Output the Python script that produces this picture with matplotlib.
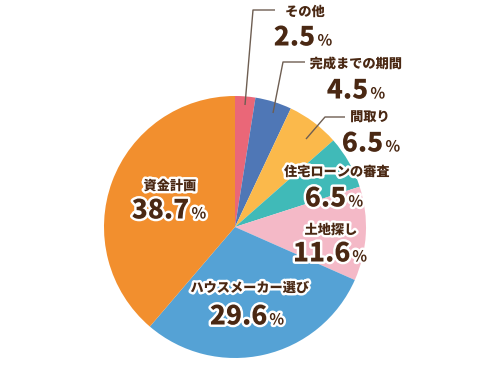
import matplotlib
matplotlib.use("Agg")
import matplotlib.pyplot as plt
import matplotlib.patheffects as pe

plt.rcParams['font.family'] = ['Noto Sans CJK JP', 'DejaVu Sans']

# ---- data ----
labels = ["その他", "完成までの期間", "間取り", "住宅ローンの審査", "土地探し", "ハウスメーカー選び", "資金計画"]
values = [2.5, 4.5, 6.5, 6.5, 11.6, 29.6, 38.7]
colors = ["#EA6778", "#4F77B6", "#FBB94B", "#40BAB8", "#F4B9C7", "#55A2D5", "#F28F2E"]

# ---- layout (pixel coords, origin top-left) ----
W, H = 500, 375
pie_center = (235, 227)
pie_radius = 131
name_pos = [(305, 12), (356, 64), (370, 117), (337, 172), (331, 230), (250, 288), (170, 186)]
num_pos = [(303, 36), (356, 89), (371, 142), (334, 197), (330, 252), (247, 315), (169, 209)]
leaders = {
    0: [(275, 10), (253, 10), (245, 105)],
    1: [(305, 62), (283, 62), (273, 113)],
    2: [(345, 117), (325, 117), (306, 139)],
}

TXT = "#4A2813"
LINE = "#6E5E52"

fig = plt.figure(figsize=(W / 100, H / 100), dpi=100)
ax = fig.add_axes([0, 0, 1, 1])
ax.set_xlim(0, W)
ax.set_ylim(0, H)
ax.axis('off')

def Y(y):
    return H - y

ax.pie(values, colors=colors, startangle=90, counterclock=False,
       center=(pie_center[0], Y(pie_center[1])), radius=pie_radius,
       wedgeprops=dict(linewidth=0))
ax.set_xlim(0, W)
ax.set_ylim(0, H)
ax.set_aspect('equal', adjustable='box')

for i, pts in leaders.items():
    xs = [p[0] for p in pts]
    ys = [Y(p[1]) for p in pts]
    ax.plot(xs, ys, color=LINE, lw=1.0, solid_capstyle='butt')

stroke = [pe.withStroke(linewidth=3.5, foreground='white')]

for i, lab in enumerate(labels):
    x, y = name_pos[i]
    ax.text(x, Y(y), lab, ha='center', va='center', fontsize=9.5,
            fontweight='heavy', color=TXT, path_effects=stroke)

fig.canvas.draw()
r = fig.canvas.get_renderer()
for i, v in enumerate(values):
    cx, cy = num_pos[i]
    base = Y(cy + 9.5)
    t1 = ax.text(0, base, f"{v:.1f}", ha='left', va='baseline', fontsize=19,
                 fontweight='heavy', color=TXT, path_effects=stroke)
    t2 = ax.text(0, base, "%", ha='left', va='baseline', fontsize=11,
                 fontweight='bold', color=TXT, path_effects=stroke)
    w1 = t1.get_window_extent(r).width
    w2 = t2.get_window_extent(r).width
    gap = 2
    x0 = cx - (w1 + gap + w2) / 2
    t1.set_x(x0)
    t2.set_x(x0 + w1 + gap)

fig.savefig("out.png", dpi=100)
